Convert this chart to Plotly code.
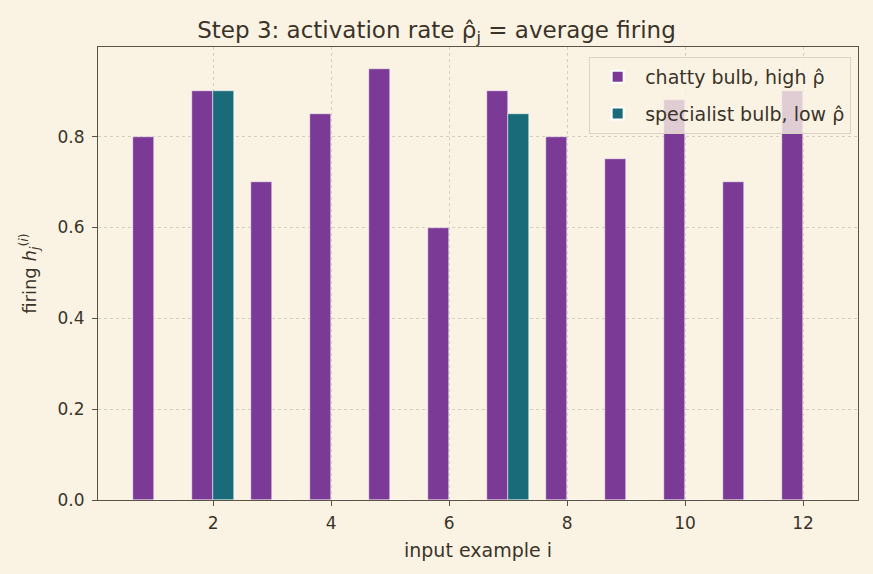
import plotly.graph_objects as go

examples = list(range(1, 13))
chatty = [0.80, 0.90, 0.70, 0.85, 0.95, 0.60, 0.90, 0.80, 0.75, 0.88, 0.70, 0.90]
specialist = [0, 0.90, 0, 0, 0, 0, 0.85, 0, 0, 0, 0, 0]

bg = "#FAF3E4"
ink = "#3b3328"
offset = 0.18
width = 0.35

fig = go.Figure()
fig.add_trace(go.Bar(
    x=[e - offset for e in examples], y=chatty, width=width,
    name="chatty bulb, high ρ̂", legendgroup="a",
    marker=dict(color="#7B3A96", line=dict(color="white", width=0.5)),
))
fig.add_trace(go.Bar(
    x=[e + offset for e in examples], y=specialist, width=width,
    name="specialist bulb, low ρ̂", legendgroup="b",
    marker=dict(color="#1A6B7A", line=dict(color="white", width=0.5)),
))

fig.update_layout(
    width=873, height=574,
    paper_bgcolor=bg, plot_bgcolor=bg,
    margin=dict(l=98, r=15, t=47, b=74),
    font=dict(family="DejaVu Sans", color=ink, size=17),
    barmode="overlay",
    bargap=0,
    title=dict(text="Step 3: activation rate ρ̂<sub>j</sub> = average firing",
               x=0.5, xanchor="center", y=0.948, yanchor="middle",
               font=dict(size=23, color=ink)),
    legend=dict(x=0.991, y=0.978, xanchor="right", yanchor="top",
                bgcolor="rgba(250,243,228,0.8)", bordercolor="#d9d3c6", borderwidth=1,
                font=dict(size=19, color=ink), itemsizing="constant",
                itemwidth=45, traceorder="grouped", tracegroupgap=9),
    showlegend=True,
)
axis_common = dict(
    showline=True, linecolor="#5a5245", linewidth=1.2, mirror=True,
    ticks="outside", ticklen=5, tickcolor="#5a5245",
    showgrid=True, gridcolor="#d6cfc1", griddash="dot", gridwidth=1,
    zeroline=False, tickfont=dict(size=17),
)
fig.update_xaxes(
    range=[0.05, 12.93], tickvals=[2, 4, 6, 8, 10, 12],
    title=dict(text="input example i", font=dict(size=19, color=ink), standoff=12),
    ticklabelstandoff=2,
    **axis_common,
)
fig.update_yaxes(
    range=[0, 0.9975], tickvals=[0, 0.2, 0.4, 0.6, 0.8], ticktext=["0.0", "0.2", "0.4", "0.6", "0.8"],
    title=dict(text="firing <i>h</i><sub><i>j</i></sub><sup>(<i>i</i>)</sup>", font=dict(size=18, color=ink), standoff=16),
    ticklabelstandoff=4,
    **axis_common,
)

fig.write_html("out.html")
